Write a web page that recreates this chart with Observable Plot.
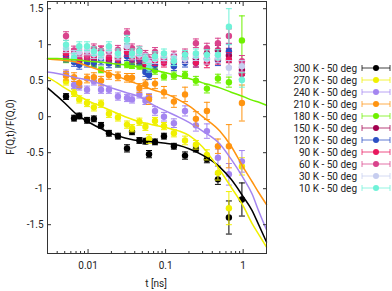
<!DOCTYPE html>
<html><head><meta charset="utf-8">
<script src="https://cdn.jsdelivr.net/npm/d3@7"></script>
<script src="https://cdn.jsdelivr.net/npm/@observablehq/plot@0.6"></script>
<style>
body{margin:0;background:#fff;}
#chart{position:relative;width:392px;height:291px;}
</style></head><body><div id="chart"></div>
<script>
// ---- data ----
const labels = ["300 K - 50 deg","270 K - 50 deg","240 K - 50 deg","210 K - 50 deg","180 K - 50 deg","150 K - 50 deg","120 K - 50 deg","90 K - 50 deg","60 K - 50 deg","30 K - 50 deg","10 K - 50 deg"];
const colors = ["#000000","#f0f000","#a485f0","#ff9410","#6ff000","#a3004f","#2b4fc4","#e8175d","#d9438c","#c6cdef","#6ff2d8"];
const times = [0.0052,0.0066,0.0077,0.0097,0.0119,0.0147,0.0186,0.0243,0.0318,0.0369,0.0459,0.0549,0.0611,0.073,0.0953,0.128,0.178,0.246,0.341,0.473,0.655,0.964];

const y300 = [0.28,-0.02,0.01,-0.05,-0.03,-0.12,-0.23,-0.27,-0.44,-0.21,-0.33,-0.34,-0.52,-0.35,-0.27,-0.41,-0.54,-0.45,-0.59,-0.87,-1.40,-1.15];
const e300 = [0.04,0.04,0.04,0.04,0.04,0.04,0.04,0.04,0.05,0.04,0.04,0.04,0.05,0.04,0.04,0.04,0.05,0.04,0.05,0.07,0.23,0.23];
const y270 = [0.49,0.33,0.24,0.19,0.13,0.18,0.04,-0.01,-0.11,-0.16,-0.07,-0.14,-0.31,-0.06,-0.13,-0.23,-0.33,-0.39,-0.53,-0.78,-1.27,-0.69];
const e270 = [0.05,0.05,0.05,0.05,0.05,0.05,0.05,0.05,0.05,0.05,0.05,0.05,0.06,0.05,0.05,0.05,0.06,0.06,0.07,0.10,0.23,0.12];
const y240 = [0.60,0.44,0.42,0.375,0.49,0.375,0.375,0.28,0.26,0.24,0.31,0.22,0.27,0.08,0.0,-0.09,0.08,-0.12,-0.20,-0.57,-0.80,-0.62];
const e240 = [0.05,0.05,0.05,0.05,0.05,0.05,0.05,0.05,0.05,0.05,0.05,0.05,0.05,0.06,0.06,0.06,0.07,0.08,0.10,0.12,0.15,0.15];
const y210 = [0.57,0.55,0.47,0.53,0.55,0.50,0.58,0.56,0.54,0.54,0.40,0.45,0.24,0.46,0.34,0.21,0.31,-0.03,0.08,-0.41,-0.41,0.19];
const e210 = [0.06,0.06,0.06,0.06,0.06,0.06,0.06,0.06,0.06,0.06,0.06,0.06,0.07,0.07,0.08,0.08,0.10,0.10,0.12,0.10,0.30,0.25];
const y180 = [0.79,0.78,0.76,0.77,0.73,0.65,0.76,0.73,0.72,0.71,0.70,0.68,0.66,0.64,0.56,0.57,0.58,0.50,0.39,0.53,0.48,1.06];
const e180 = [0.04,0.04,0.04,0.04,0.04,0.04,0.04,0.04,0.04,0.04,0.04,0.04,0.05,0.05,0.05,0.05,0.05,0.06,0.06,0.06,0.07,0.34];
const y150 = [0.85,0.80,0.78,0.80,0.80,0.86,0.78,0.82,0.95,0.84,0.80,0.72,0.66,0.80,0.82,0.75,0.82,0.80,0.88,0.92,0.85,0.65];
const y120 = [0.82,0.76,0.72,0.75,0.75,0.78,0.74,0.75,0.84,0.79,0.78,0.62,0.58,0.72,0.78,0.70,0.75,0.75,0.80,0.78,0.91,0.60];
const y90  = [0.88,0.88,0.80,0.84,0.85,0.92,0.82,0.80,0.90,0.82,0.82,0.75,0.72,0.77,0.75,0.80,0.80,0.75,0.75,0.80,0.79,0.60];
const y60  = [1.12,0.92,0.88,0.86,0.95,0.92,0.90,0.93,1.16,0.95,0.92,0.86,0.80,0.90,0.80,0.85,0.88,1.02,0.95,1.02,1.12,0.77];
const y30  = [0.95,0.86,0.90,0.92,0.87,0.83,0.93,0.85,0.98,0.85,0.86,0.82,0.75,0.80,0.84,0.82,0.80,0.84,0.80,0.82,0.68,0.70];
const y10  = [1.00,0.82,0.98,0.98,0.91,0.88,0.98,0.88,1.07,0.88,0.91,0.80,0.68,0.84,0.88,0.77,0.86,0.88,0.86,0.86,1.25,0.51];
const eLow = [0.06,0.06,0.06,0.06,0.06,0.06,0.06,0.06,0.06,0.06,0.06,0.06,0.06,0.06,0.06,0.06,0.06,0.06,0.07,0.07,0.10,0.08];
const e10  = [0.06,0.06,0.06,0.06,0.06,0.06,0.06,0.06,0.06,0.06,0.06,0.06,0.06,0.06,0.06,0.06,0.06,0.06,0.07,0.07,0.25,0.10];

// fit curves
const fitT   = [0.003,0.004,0.005,0.007,0.01,0.015,0.02,0.03,0.05,0.07,0.1,0.15,0.2,0.3,0.5,0.7,1,1.3,1.6,2];
const fit300 = [0.40,0.285,0.19,0.04,-0.07,-0.17,-0.235,-0.295,-0.34,-0.35,-0.37,-0.40,-0.445,-0.535,-0.70,-0.87,-1.11,-1.30,-1.51,-1.74];
const fit270 = [0.55,0.47,0.40,0.31,0.22,0.14,0.08,0.0,-0.08,-0.115,-0.15,-0.20,-0.26,-0.42,-0.74,-0.98,-1.24,-1.48,-1.64,-1.81];
const fit240 = [0.62,0.60,0.58,0.54,0.51,0.45,0.40,0.34,0.26,0.16,0.08,-0.01,-0.08,-0.20,-0.38,-0.59,-0.85,-1.07,-1.32,-1.57];
const fit210 = [0.80,0.79,0.78,0.76,0.70,0.64,0.595,0.52,0.43,0.37,0.32,0.23,0.15,0.0,-0.20,-0.41,-0.70,-0.90,-1.06,-1.22];
const fit180 = [0.81,0.81,0.80,0.79,0.77,0.755,0.74,0.72,0.68,0.65,0.61,0.565,0.53,0.47,0.40,0.34,0.28,0.23,0.20,0.16];

const xMajor = [0.01,0.1,1];
const xMinor = [0.003,0.004,0.005,0.006,0.007,0.008,0.009,0.02,0.03,0.04,0.05,0.06,0.07,0.08,0.09,0.2,0.3,0.4,0.5,0.6,0.7,0.8,0.9,2];
const yTicks = [-1.5,-1,-0.5,0,0.5,1,1.5];

// ---- build tables ----
const ys = [y300,y270,y240,y210,y180,y150,y120,y90,y60,y30,y10];
const es = [e300,e270,e240,e210,e180,eLow,eLow,eLow,eLow,eLow,e10];
const fits = [fit300,fit270,fit240,fit210,fit180];

const cap = {draw(ctx, size){ const r = Math.sqrt(size/Math.PI); ctx.moveTo(-r,0); ctx.lineTo(r,0); }};

const marks = [];
labels.forEach((lab, i) => {
  const d = times.map((t, j) => ({s: lab, t, y: ys[i][j], e: es[i][j]})).filter(r => r.y != null);
  marks.push(Plot.ruleX(d, {x: "t", y1: r => r.y - r.e, y2: r => r.y + r.e, stroke: "s", strokeWidth: 1}));
  marks.push(Plot.dot(d, {x: "t", y: r => r.y + r.e, symbol: cap, r: 3, stroke: "s", fill: "none", strokeWidth: 1}));
  marks.push(Plot.dot(d, {x: "t", y: r => r.y - r.e, symbol: cap, r: 3, stroke: "s", fill: "none", strokeWidth: 1}));
  marks.push(Plot.dot(d, {x: "t", y: "y", r: 3.2, fill: "s"}));
});
fits.forEach((f, i) => {
  const d = fitT.map((t, j) => ({s: labels[i], t, y: f[j]}));
  marks.push(Plot.line(d, {x: "t", y: "y", stroke: "s", strokeWidth: 1.5, curve: "monotone-x"}));
});

const blank = () => "";
const plot = Plot.plot({
  width: 392, height: 291,
  marginLeft: 47, marginRight: 126, marginTop: 1, marginBottom: 38,
  style: {fontFamily: "Roboto, sans-serif", fontSize: "10px", color: "#222", background: "#fff"},
  x: {type: "log", domain: [0.003, 2]},
  y: {domain: [-1.9, 1.6]},
  color: {type: "ordinal", domain: labels, range: colors},
  marks: [
    ...marks,
    Plot.frame({stroke: "#333"}),
    Plot.axisX({anchor: "bottom", ticks: xMajor, tickSize: -4, tickPadding: 12, tickFormat: d => String(d), label: null, stroke: "#333"}),
    Plot.axisX({anchor: "bottom", ticks: xMinor, tickSize: -2, tickFormat: blank, label: null, stroke: "#333"}),
    Plot.axisX({anchor: "top", ticks: xMajor, tickSize: -4, tickFormat: blank, label: null, stroke: "#333"}),
    Plot.axisX({anchor: "top", ticks: xMinor, tickSize: -2, tickFormat: blank, label: null, stroke: "#333"}),
    Plot.axisY({anchor: "left", ticks: yTicks, tickSize: -4, tickPadding: 8, tickFormat: d => String(d), label: null, stroke: "#333"}),
    Plot.axisY({anchor: "right", ticks: yTicks, tickSize: -4, tickFormat: blank, label: null, stroke: "#333"})
  ]
});
document.getElementById("chart").appendChild(plot);

// ---- titles & legend ----
const svg = d3.select(plot);
svg.append("text").attr("transform", "translate(10,127) rotate(-90)").attr("text-anchor", "middle")
  .attr("dy", "0.35em").attr("font-size", 10).attr("fill", "#222").text("F(Q,t)/F(Q,0)");
svg.append("text").attr("x", 156).attr("y", 283).attr("text-anchor", "middle")
  .attr("dy", "0.35em").attr("font-size", 10).attr("fill", "#222").text("t [ns]");
const lg = svg.append("g");
labels.forEach((lab, i) => {
  const y = 68 + 12 * i, c = colors[i];
  lg.append("text").attr("x", 357).attr("y", y).attr("dy", "0.35em").attr("text-anchor", "end")
    .attr("font-size", 10).attr("fill", "#222").text(lab);
  lg.append("line").attr("x1", 362).attr("x2", 390).attr("y1", y).attr("y2", y).attr("stroke", c).attr("stroke-opacity", 0.75);
  lg.append("line").attr("x1", 362).attr("x2", 362).attr("y1", y - 3).attr("y2", y + 3).attr("stroke", c).attr("stroke-opacity", 0.75);
  lg.append("line").attr("x1", 390).attr("x2", 390).attr("y1", y - 3).attr("y2", y + 3).attr("stroke", c).attr("stroke-opacity", 0.75);
  lg.append("circle").attr("cx", 376).attr("cy", y).attr("r", 3).attr("fill", c);
});
</script></body></html>
